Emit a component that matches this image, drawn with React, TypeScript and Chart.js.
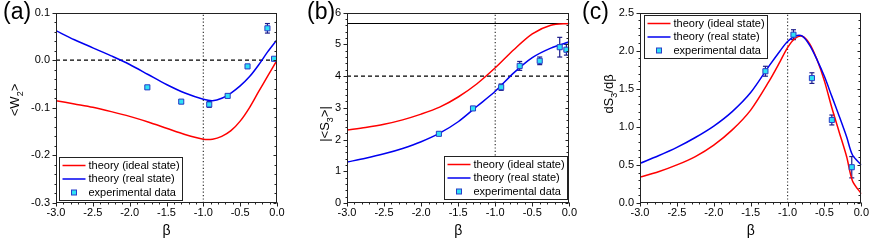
import React, { useEffect, useRef } from 'react';
import Chart from 'chart.js/auto';

const FONT = 'Arial, "Liberation Sans", Helvetica, sans-serif';
const RED = '#ff0000';
const BLUE = '#0000f0';
const CYAN = '#2fe2f5';
const MARK_EDGE = '#2a3cc8';
const ERR_COLOR = '#1c1c8a';

// ---------- shared axis ----------
const X_MIN = -3;
const X_MAX = 0;
const X_STEP = 0.5;
const BETA_MARK = -1;

// ---------- panel (a): <W2> ----------
const betaA = [-3, -2.75, -2.5, -2.25, -2, -1.75, -1.5, -1.25, -1, -0.875, -0.75, -0.625, -0.5, -0.375, -0.25, -0.125, 0];
const w2Ideal = [-0.085, -0.092, -0.099, -0.108, -0.118, -0.130, -0.143, -0.156, -0.166, -0.166, -0.160, -0.148, -0.128, -0.100, -0.066, -0.033, 0.0];
const w2Real = [0.062, 0.043, 0.026, 0.009, -0.009, -0.030, -0.051, -0.069, -0.082, -0.085, -0.080, -0.069, -0.054, -0.035, -0.010, 0.018, 0.043];
const betaExp = [-1.76, -1.30, -0.92, -0.67, -0.40, -0.13, -0.04];
const w2Exp = [-0.057, -0.087, -0.093, -0.075, -0.013, 0.067, 0.003];
const w2Err = [0.003, 0.004, 0.006, 0.004, 0.002, 0.010, 0.002];
const w2Ref = 0;

// ---------- panel (b): |<S3>| ----------
const betaB = [-3, -2.75, -2.5, -2.25, -2, -1.75, -1.5, -1.25, -1, -0.75, -0.5, -0.25, 0];
const s3Ideal = [2.30, 2.38, 2.48, 2.62, 2.80, 3.02, 3.34, 3.75, 4.26, 4.83, 5.33, 5.60, 5.66];
const s3Real = [1.29, 1.41, 1.55, 1.72, 1.93, 2.20, 2.56, 3.04, 3.52, 4.10, 4.58, 4.88, 5.08];
const s3Exp = [2.18, 2.98, 3.65, 4.32, 4.48, 4.91, 4.83];
const s3Err = [0.05, 0.06, 0.10, 0.14, 0.12, 0.31, 0.17];
const s3Classical = 4;
const s3Quantum = 5.657;

// ---------- panel (c): dS3/dβ ----------
const betaC = [-3, -2.75, -2.5, -2.25, -2, -1.75, -1.5, -1.25, -1.1, -1, -0.9, -0.8, -0.7, -0.6, -0.5, -0.4, -0.3, -0.2, -0.12, 0];
const dIdeal = [0.34, 0.41, 0.50, 0.61, 0.76, 0.96, 1.22, 1.60, 1.86, 2.04, 2.16, 2.19, 2.09, 1.88, 1.60, 1.25, 0.93, 0.61, 0.29, 0.12];
const dReal = [0.52, 0.62, 0.73, 0.86, 1.01, 1.20, 1.45, 1.80, 2.00, 2.12, 2.19, 2.19, 2.07, 1.88, 1.66, 1.40, 1.14, 0.87, 0.63, 0.50];
const betaExpC = [-1.30, -0.92, -0.67, -0.40, -0.13];
const dExp = [1.73, 2.21, 1.64, 1.09, 0.47];
const dErr = [0.065, 0.065, 0.07, 0.065, 0.14];

const legendLabels = ['theory (ideal state)', 'theory (real state)', 'experimental data'];

type Part = { t: string; sub?: boolean };

interface PanelCfg {
  key: string;
  label: string;
  left: number;
  width: number;
  yAxisWidth: number;
  rightPad: number;
  labelX: number;
  yMin: number;
  yMax: number;
  yStep: number;
  yDec: number;
  curveX: number[];
  ideal: number[];
  real: number[];
  expX: number[];
  expY: number[];
  expErr: number[];
  hLines: { y: number; dash: number[] }[];
  yTitle: Part[];
  yTitleX: number;
  yTitleY: number;
  legend: { corner: 'bl' | 'br' | 'tl'; dx: number; dy: number };
}

const panels: PanelCfg[] = [
  {
    key: 'a', label: '(a)', left: 0, width: 290, yAxisWidth: 56, rightPad: 13, labelX: 3,
    yMin: -0.3, yMax: 0.1, yStep: 0.1, yDec: 1,
    curveX: betaA, ideal: w2Ideal, real: w2Real,
    expX: betaExp, expY: w2Exp, expErr: w2Err,
    hLines: [{ y: w2Ref, dash: [4, 3] }],
    yTitle: [{ t: '<W' }, { t: '2', sub: true }, { t: '>' }], yTitleX: 14.5, yTitleY: 100,
    legend: { corner: 'bl', dx: 3, dy: 3 },
  },
  {
    key: 'b', label: '(b)', left: 290, width: 290, yAxisWidth: 57, rightPad: 10, labelX: 17,
    yMin: 0, yMax: 6, yStep: 1, yDec: 0,
    curveX: betaB, ideal: s3Ideal, real: s3Real,
    expX: betaExp, expY: s3Exp, expErr: s3Err,
    hLines: [{ y: s3Classical, dash: [4, 3] }, { y: s3Quantum, dash: [] }],
    yTitle: [{ t: '|<S' }, { t: '3', sub: true }, { t: '>|' }], yTitleX: 34, yTitleY: 124,
    legend: { corner: 'br', dx: 2, dy: 4 },
  },
  {
    key: 'c', label: '(c)', left: 580, width: 292, yAxisWidth: 60, rightPad: 10, labelX: 2,
    yMin: 0, yMax: 2.5, yStep: 0.5, yDec: 1,
    curveX: betaC, ideal: dIdeal, real: dReal,
    expX: betaExpC, expY: dExp, expErr: dErr,
    hLines: [],
    yTitle: [{ t: 'dS' }, { t: '3', sub: true }, { t: '/dβ' }], yTitleX: 28, yTitleY: 94,
    legend: { corner: 'tl', dx: 4, dy: 2 },
  },
];

const fmt = (v: number, d: number) => (Math.abs(v) < 1e-9 ? 0 : v).toFixed(d);

function line(ctx: CanvasRenderingContext2D, x1: number, y1: number, x2: number, y2: number) {
  ctx.beginPath();
  ctx.moveTo(x1, y1);
  ctx.lineTo(x2, y2);
  ctx.stroke();
}

function drawMarker(ctx: CanvasRenderingContext2D, x: number, y: number) {
  ctx.fillStyle = CYAN;
  ctx.strokeStyle = MARK_EDGE;
  ctx.lineWidth = 1;
  ctx.fillRect(x - 2.5, y - 2.5, 5, 5);
  ctx.strokeRect(x - 2.5, y - 2.5, 5, 5);
}

const decorPlugin = {
  id: 'decor',
  beforeDatasetsDraw(chart: any) {
    const ctx: CanvasRenderingContext2D = chart.ctx;
    const xs = chart.scales.x;
    const ys = chart.scales.y;
    ctx.save();
    ctx.strokeStyle = ERR_COLOR;
    ctx.lineWidth = 1.2;
    chart.data.datasets.forEach((ds: any) => {
      if (!ds.errors) return;
      ds.data.forEach((pt: any, i: number) => {
        const e = ds.errors[i];
        const px = xs.getPixelForValue(pt.x);
        const y1 = ys.getPixelForValue(pt.y - e);
        const y2 = ys.getPixelForValue(pt.y + e);
        line(ctx, px, y1, px, y2);
        line(ctx, px - 2.5, y1, px + 2.5, y1);
        line(ctx, px - 2.5, y2, px + 2.5, y2);
      });
    });
    ctx.restore();
  },
  afterDraw(chart: any, _a: any, opts: any) {
    const ctx: CanvasRenderingContext2D = chart.ctx;
    const { left, right, top, bottom } = chart.chartArea;
    const xs = chart.scales.x;
    const ys = chart.scales.y;
    const p: PanelCfg = opts.cfg;
    ctx.save();
    // frame
    ctx.strokeStyle = '#222';
    ctx.lineWidth = 1;
    const L = Math.round(left) + 0.5, R = Math.round(right) - 0.5;
    const T = Math.round(top) + 0.5, B = Math.round(bottom) - 0.5;
    ctx.strokeRect(L, T, R - L, B - T);
    // x ticks
    const nx = Math.round((X_MAX - X_MIN) / (X_STEP / 5));
    for (let i = 0; i <= nx; i++) {
      const v = X_MIN + (i * X_STEP) / 5;
      const px = Math.round(xs.getPixelForValue(v)) + 0.5;
      const major = i % 5 === 0;
      line(ctx, px, B, px, B + (major ? 4 : 2));
    }
    // y ticks
    const ny = Math.round((p.yMax - p.yMin) / (p.yStep / 5));
    for (let i = 0; i <= ny; i++) {
      const v = p.yMin + (i * p.yStep) / 5;
      const py = Math.round(ys.getPixelForValue(v)) + 0.5;
      const major = i % 5 === 0;
      line(ctx, L, py, L - (major ? 4 : 2), py);
      line(ctx, R, py, R - (major ? 3 : 2), py);
    }
    // legend
    ctx.font = `11px ${FONT}`;
    const tw = Math.max(...legendLabels.map((t) => ctx.measureText(t).width));
    const bw = Math.round(3 + 23 + 3 + tw + 3);
    const bh = 43;
    const lg = p.legend;
    let bx = 0, by = 0;
    if (lg.corner === 'bl') { bx = left + lg.dx; by = bottom - lg.dy - bh; }
    if (lg.corner === 'br') { bx = right - lg.dx - bw; by = bottom - lg.dy - bh; }
    if (lg.corner === 'tl') { bx = left + lg.dx; by = top + lg.dy; }
    bx = Math.round(bx) + 0.5; by = Math.round(by) + 0.5;
    ctx.fillStyle = '#fff';
    ctx.fillRect(bx, by, bw, bh);
    ctx.strokeStyle = '#222';
    ctx.lineWidth = 1;
    ctx.strokeRect(bx, by, bw, bh);
    const colors = [RED, BLUE];
    legendLabels.forEach((t, i) => {
      const cy = by + 8 + i * 13.5;
      const lx = bx + 3;
      if (i < 2) {
        ctx.strokeStyle = colors[i];
        ctx.lineWidth = 1.5;
        line(ctx, lx, cy, lx + 23, cy);
      } else {
        drawMarker(ctx, lx + 11.5, cy);
      }
      ctx.fillStyle = '#000';
      ctx.textBaseline = 'middle';
      ctx.textAlign = 'left';
      ctx.fillText(t, lx + 26, cy);
    });
    // panel label
    ctx.font = `23px ${FONT}`;
    ctx.fillStyle = '#000';
    ctx.textBaseline = 'alphabetic';
    ctx.textAlign = 'left';
    ctx.fillText(p.label, p.labelX, 19);
    // y title (rotated, with subscript)
    const size = 13;
    const widths = p.yTitle.map((part) => {
      ctx.font = `${part.sub ? Math.round(size * 0.72) : size}px ${FONT}`;
      return ctx.measureText(part.t).width;
    });
    const total = widths.reduce((a, b) => a + b, 0);
    ctx.translate(p.yTitleX, p.yTitleY);
    ctx.rotate(-Math.PI / 2);
    let cx = -total / 2;
    p.yTitle.forEach((part, i) => {
      ctx.font = `${part.sub ? Math.round(size * 0.72) : size}px ${FONT}`;
      ctx.fillText(part.t, cx, size * 0.36 + (part.sub ? size * 0.3 : 0));
      cx += widths[i];
    });
    ctx.restore();
  },
};

function buildConfig(p: PanelCfg): any {
  const pts = (xs: number[], ys: number[]) => xs.map((x, i) => ({ x, y: ys[i] }));
  const datasets: any[] = [
    {
      label: legendLabels[2],
      data: pts(p.expX, p.expY),
      errors: p.expErr,
      showLine: false,
      pointStyle: 'rect',
      pointRadius: 3.6,
      pointBackgroundColor: CYAN,
      pointBorderColor: MARK_EDGE,
      pointBorderWidth: 1,
    },
    {
      label: legendLabels[1],
      data: pts(p.curveX, p.real),
      showLine: true,
      borderColor: BLUE,
      borderWidth: 1.5,
      pointRadius: 0,
      tension: 0.3,
    },
    {
      label: legendLabels[0],
      data: pts(p.curveX, p.ideal),
      showLine: true,
      borderColor: RED,
      borderWidth: 1.5,
      pointRadius: 0,
      tension: 0.3,
    },
    ...p.hLines.map((h) => ({
      label: 'ref',
      data: [{ x: X_MIN, y: h.y }, { x: X_MAX, y: h.y }],
      showLine: true,
      borderColor: '#000',
      borderWidth: 1.2,
      borderDash: h.dash,
      pointRadius: 0,
    })),
    {
      label: 'beta=-1',
      data: [{ x: BETA_MARK, y: p.yMin }, { x: BETA_MARK, y: p.yMax }],
      showLine: true,
      borderColor: '#333',
      borderWidth: 1.2,
      borderDash: [1.2, 2.2],
      pointRadius: 0,
    },
  ];
  const tickFont = { family: FONT, size: 11 };
  return {
    type: 'scatter',
    data: { datasets },
    plugins: [decorPlugin],
    options: {
      animation: false,
      responsive: false,
      maintainAspectRatio: false,
      devicePixelRatio: 1,
      events: [],
      layout: { padding: { left: 0, right: p.rightPad, top: 10, bottom: 0 } },
      plugins: {
        legend: { display: false },
        tooltip: { enabled: false },
        decor: { cfg: p },
      },
      scales: {
        x: {
          type: 'linear',
          min: X_MIN,
          max: X_MAX,
          afterFit: (s: any) => { s.height = 42; },
          ticks: {
            stepSize: X_STEP,
            padding: 3,
            color: '#000',
            font: tickFont,
            maxRotation: 0,
            autoSkip: false,
            callback: (v: number) => fmt(v, 1),
          },
          grid: { display: false, drawTicks: false },
          border: { display: false },
          title: {
            display: true,
            text: 'β',
            color: '#000',
            font: { family: FONT, size: 14 },
            padding: { top: 0, bottom: 5 },
          },
        },
        y: {
          type: 'linear',
          min: p.yMin,
          max: p.yMax,
          afterFit: (s: any) => { s.width = p.yAxisWidth; },
          ticks: {
            stepSize: p.yStep,
            padding: 6,
            color: '#000',
            font: tickFont,
            autoSkip: false,
            callback: (v: number) => fmt(v, p.yDec),
          },
          grid: { display: false, drawTicks: false },
          border: { display: false },
        },
      },
    },
  };
}

function Panel({ cfg }: { cfg: PanelCfg }) {
  const ref = useRef<HTMLCanvasElement>(null);
  useEffect(() => {
    const chart = new Chart(ref.current as HTMLCanvasElement, buildConfig(cfg));
    return () => chart.destroy();
  }, [cfg]);
  return (
    <canvas
      ref={ref}
      width={cfg.width}
      height={245}
      style={{ position: 'absolute', left: cfg.left, top: 0, width: cfg.width, height: 245 }}
    />
  );
}

export default function App() {
  return (
    <div style={{ position: 'absolute', left: 0, top: 0, width: 872, height: 245, background: '#fff', overflow: 'hidden' }}>
      {panels.map((p) => (
        <Panel key={p.key} cfg={p} />
      ))}
    </div>
  );
}
